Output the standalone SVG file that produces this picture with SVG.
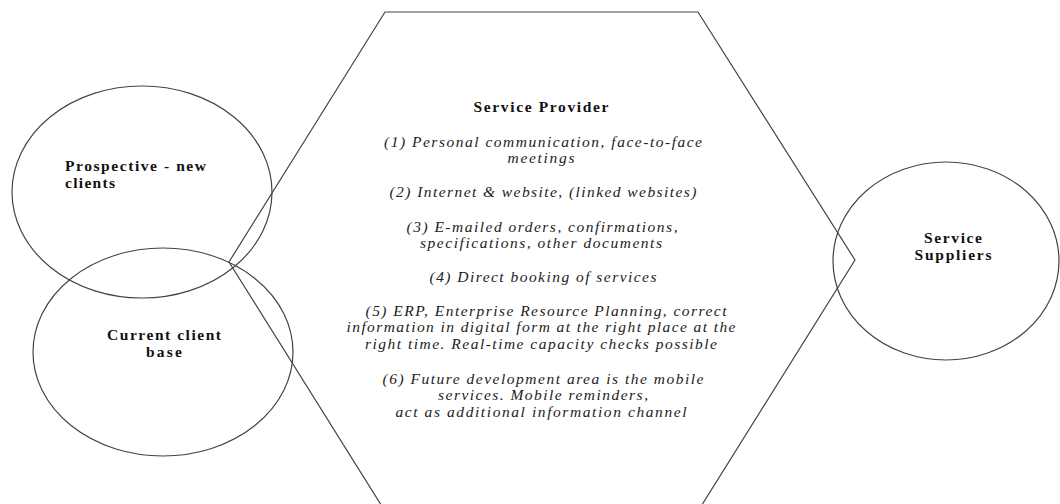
<svg xmlns="http://www.w3.org/2000/svg" width="1060" height="504" viewBox="0 0 1060 504">
<style>
.shape{fill:none;stroke:#444;stroke-width:1.2}
text{font-family:'Liberation Serif','Times New Roman','DejaVu Serif',serif}
.b{font-weight:bold;font-size:15.5px;fill:#111}
.i{font-style:italic;font-size:15.5px;fill:#222;text-anchor:middle}
.c{text-anchor:middle}
</style>
<rect width="1060" height="504" fill="#fff"/>
<g id="provider">
<polygon class="shape" points="385,12 698,12 855,260 700,508 383,508 229,262"/>
<text class="b c" x="541" y="112" textLength="135" lengthAdjust="spacing">Service Provider</text>
<text class="i" x="543" y="147" textLength="318" lengthAdjust="spacing">(1) Personal communication, face-to-face</text>
<text class="i" x="541" y="163" textLength="67" lengthAdjust="spacing">meetings</text>
<text class="i" x="543" y="197" textLength="307" lengthAdjust="spacing">(2) Internet &amp; website, (linked websites)</text>
<text class="i" x="542" y="232" textLength="271" lengthAdjust="spacing">(3) E-mailed orders, confirmations,</text>
<text class="i" x="541" y="248" textLength="242" lengthAdjust="spacing">specifications, other documents</text>
<text class="i" x="543" y="282" textLength="227" lengthAdjust="spacing">(4) Direct booking of services</text>
<text class="i" x="546" y="316" textLength="361" lengthAdjust="spacing">(5) ERP, Enterprise Resource Planning, correct</text>
<text class="i" x="541" y="332" textLength="389" lengthAdjust="spacing">information in digital form at the right place at the</text>
<text class="i" x="541" y="349" textLength="352" lengthAdjust="spacing">right time. Real-time capacity checks possible</text>
<text class="i" x="543" y="384" textLength="321" lengthAdjust="spacing">(6) Future development area is the mobile</text>
<text class="i" x="543" y="400" textLength="210" lengthAdjust="spacing">services. Mobile reminders,</text>
<text class="i" x="541" y="417" textLength="291" lengthAdjust="spacing">act as additional information channel</text>
</g>
<g id="prospective">
<ellipse class="shape" cx="142" cy="192" rx="130" ry="106"/>
<text class="b" x="65" y="171" textLength="141" lengthAdjust="spacing">Prospective - new</text>
<text class="b" x="65" y="188" textLength="50" lengthAdjust="spacing">clients</text>
</g>
<g id="current">
<ellipse class="shape" cx="163" cy="352" rx="130" ry="104"/>
<text class="b c" x="164" y="340" textLength="114" lengthAdjust="spacing">Current client</text>
<text class="b c" x="164" y="357" textLength="36" lengthAdjust="spacing">base</text>
</g>
<g id="suppliers">
<ellipse class="shape" cx="946" cy="261" rx="113" ry="99"/>
<text class="b c" x="953" y="243" textLength="58" lengthAdjust="spacing">Service</text>
<text class="b c" x="953" y="260" textLength="77" lengthAdjust="spacing">Suppliers</text>
</g>
<g id="connectors"></g>
</svg>
